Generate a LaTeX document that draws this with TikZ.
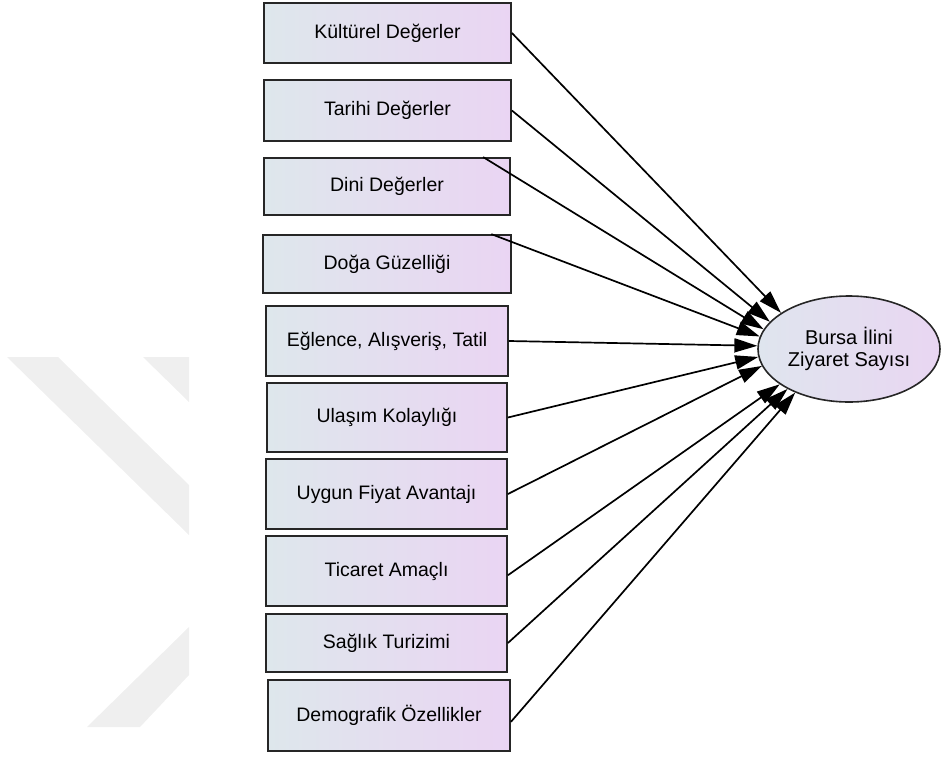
\documentclass[tikz,border=0pt]{standalone}
\usepackage{fontspec}
\setmainfont{Liberation Sans}
\usetikzlibrary{arrows.meta,shapes.geometric}
\definecolor{boxleft}{RGB}{222,231,236}
\definecolor{boxright}{RGB}{234,213,243}
\definecolor{ellleft}{RGB}{223,229,238}
\definecolor{ellright}{RGB}{233,214,242}
\definecolor{wmgray}{RGB}{239,239,239}

\begin{document}
\begin{tikzpicture}[x=1pt, y=-1pt,
    factor/.style={draw=black!85, line width=1.8pt, left color=boxleft, right color=boxright, inner sep=0pt, font=\fontsize{19.5}{23}\selectfont},
    outcome/.style={ellipse, draw=black!85, line width=1.6pt, left color=ellleft, right color=ellright, inner sep=0pt, align=center, font=\fontsize{20}{22}\selectfont},
    link/.style={-{Triangle[length=23pt,width=14pt]}, line width=1.7pt}]
    \useasboundingbox (0,0) rectangle (943,758);

    % faint watermark
    \fill[wmgray] (7,357) -- (58,357) -- (189,485) -- (189,535) -- cycle;
    \fill[wmgray] (143,357) -- (189,357) -- (189,402) -- cycle;
    \fill[wmgray] (87,727) -- (140,727) -- (189,675) -- (189,627) -- cycle;

    % Factors
    \node[factor, minimum width=247pt, minimum height=60pt] (kultur) at (387.5,33) {Kültürel Değerler};
    \node[factor, minimum width=247pt, minimum height=61pt] (tarih) at (387.5,110.5) {Tarihi Değerler};
    \node[factor, minimum width=246pt, minimum height=57pt] (dini) at (387,186.5) {Dini Değerler};
    \node[factor, minimum width=248pt, minimum height=58pt] (doga) at (387,264) {Doğa Güzelliği};
    \node[factor, minimum width=242pt, minimum height=70pt] (eglence) at (387,341) {Eğlence, Alışveriş, Tatil};
    \node[factor, minimum width=240pt, minimum height=69pt] (ulasim) at (387,417.5) {Ulaşım Kolaylığı};
    \node[factor, minimum width=241pt, minimum height=70pt] (fiyat) at (386.5,494) {Uygun Fiyat Avantajı};
    \node[factor, minimum width=241pt, minimum height=70pt] (ticaret) at (386.5,571) {Ticaret Amaçlı};
    \node[factor, minimum width=241pt, minimum height=58pt] (saglik) at (386.5,643) {Sağlık Turizimi};
    \node[factor, minimum width=242pt, minimum height=71pt] (demo) at (389,715.5) {Demografik Özellikler};

    % Outcome
    \node[outcome, minimum width=182pt, minimum height=106pt] (bursa) at (849,349) {Bursa İlini\\Ziyaret Sayısı};

    \draw[link] (kultur.east) -- (bursa.152);
    \draw[link] (tarih.east) -- (bursa.161);
    \draw[link] (dini.17) -- (bursa.167.5);
    \draw[link] (doga.16.5) -- (bursa.172);
    \draw[link] (eglence.east) -- (bursa.178);
    \draw[link] (ulasim.east) -- (bursa.185);
    \draw[link] (fiyat.east) -- (bursa.191);
    \draw[link] (ticaret.-2.5) -- (bursa.207);
    \draw[link] (saglik.east) -- (bursa.213.5);
    \draw[link] (demo.-3) -- (bursa.219.5);
\end{tikzpicture}
\end{document}
